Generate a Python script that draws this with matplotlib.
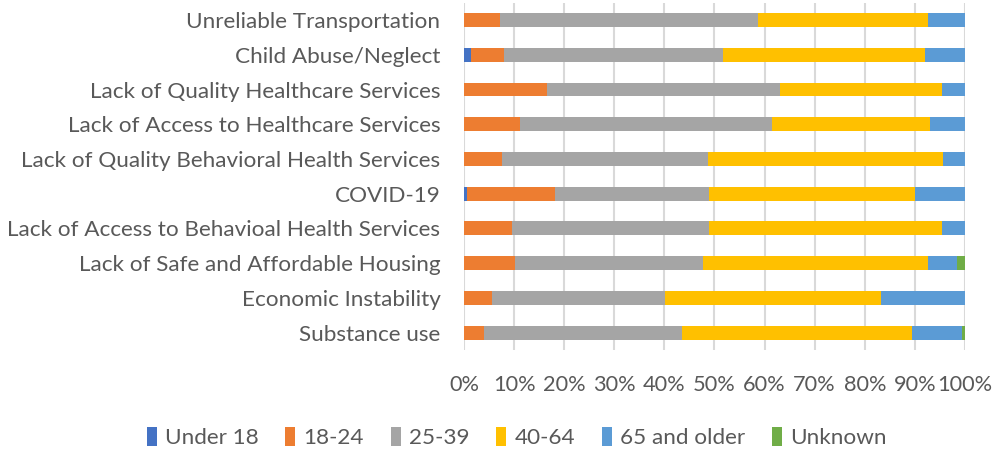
import matplotlib
matplotlib.use("Agg")
import matplotlib.pyplot as plt
import numpy as np

categories = [
    "Unreliable Transportation",
    "Child Abuse/Neglect",
    "Lack of Quality Healthcare Services",
    "Lack of Access to Healthcare Services",
    "Lack of Quality Behavioral Health Services",
    "COVID-19",
    "Lack of Access to Behavioal Health Services",
    "Lack of Safe and Affordable Housing",
    "Economic Instability",
    "Substance use",
]
series_names = ["Under 18", "18-24", "25-39", "40-64", "65 and older", "Unknown"]
under18 = [0, 1.3, 0, 0, 0, 0.7, 0, 0, 0, 0]
age18_24 = [7.2, 6.6, 16.5, 11.1, 7.5, 17.4, 9.5, 10.1, 5.5, 3.9]
age25_39 = [51.4, 43.7, 46.6, 50.4, 41.2, 30.8, 39.4, 37.6, 34.7, 39.6]
age40_64 = [34.1, 40.5, 32.4, 31.5, 47.0, 41.1, 46.6, 45.0, 43.0, 46.0]
age65 = [7.3, 7.9, 4.5, 7.0, 4.3, 10.0, 4.5, 5.8, 16.8, 10.0]
unknown = [0, 0, 0, 0, 0, 0, 0, 1.5, 0, 0.5]
colors = ["#4472C4", "#ED7D31", "#A5A5A5", "#FFC000", "#5B9BD5", "#70AD47"]
xticks = [0, 10, 20, 30, 40, 50, 60, 70, 80, 90, 100]

plt.rcParams['font.family'] = ['Lato', 'DejaVu Sans']
FS = 16.2

fig = plt.figure(figsize=(10.03, 4.51), dpi=100)
ax = fig.add_axes([0.4626, 0.224, 0.4995, 0.770])

data = np.array([under18, age18_24, age25_39, age40_64, age65, unknown], dtype=float)
data = data / data.sum(axis=0) * 100
y = np.arange(len(categories))
left = np.zeros(len(categories))
for vals, name, c in zip(data, series_names, colors):
    ax.barh(y, vals, left=left, height=0.4, color=c, label=name, zorder=3)
    left += vals

ax.set_xlim(0, 100)
ax.set_ylim(len(categories) - 0.5, -0.5)
ax.set_yticks(y)
ax.set_yticklabels(categories, fontsize=FS, color="#595959")
ax.set_xticks(xticks)
ax.set_xticklabels([f"{t}%" for t in xticks], fontsize=FS - 0.5, color="#595959")
ax.tick_params(axis='both', length=0)
ax.tick_params(axis='x', pad=18)
ax.tick_params(axis='y', pad=17)
for s in ax.spines.values():
    s.set_visible(False)
ax.grid(axis='x', color="#D9D9D9", linewidth=1.5, zorder=0)
ax.set_axisbelow(True)

leg = fig.legend(loc='center', bbox_to_anchor=(0.515, 0.03), ncol=6, frameon=False,
                 fontsize=FS, handlelength=0.45, handleheight=0.9, handletextpad=0.35,
                 columnspacing=1.2)
for t in leg.get_texts():
    t.set_color("#595959")

fig.savefig("out.png", dpi=100)
